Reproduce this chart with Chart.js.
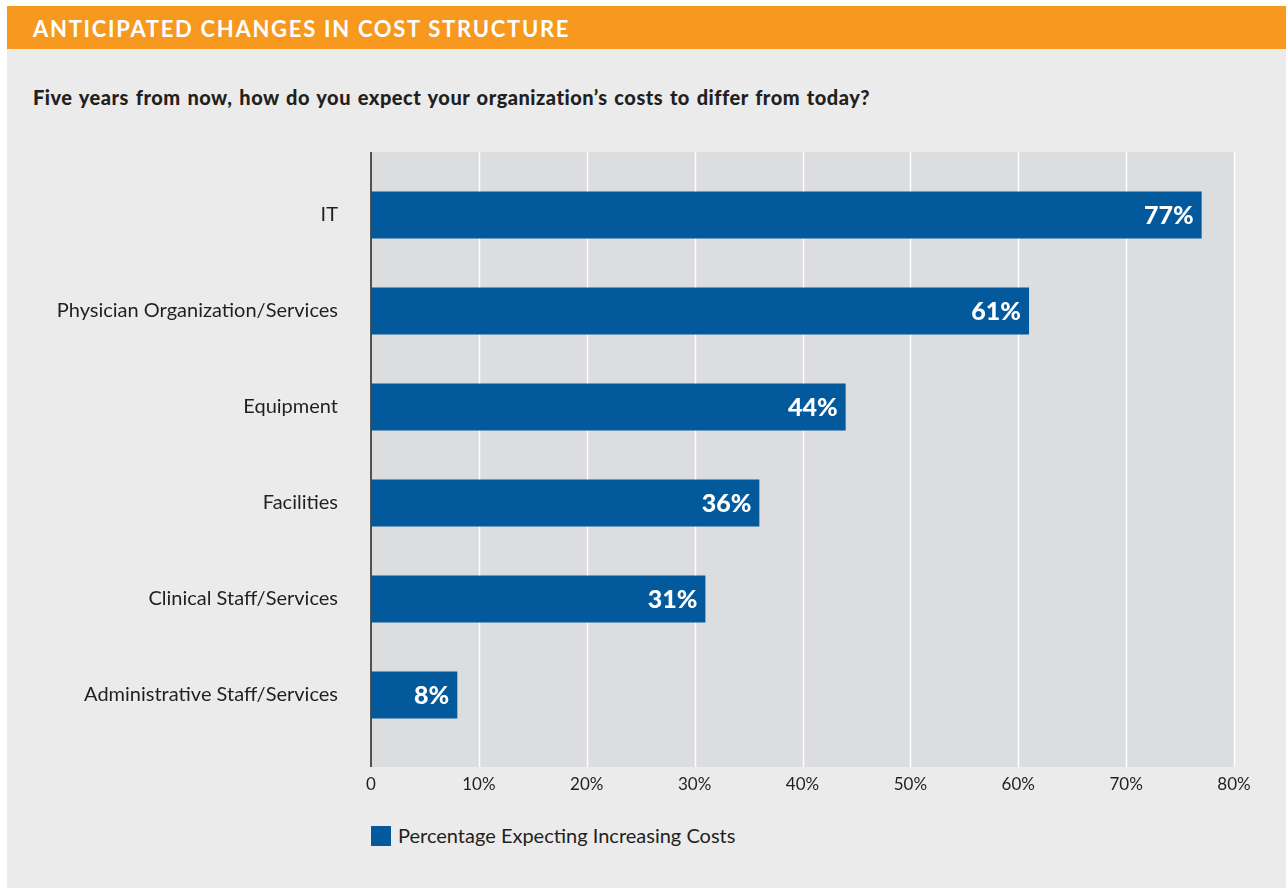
<!DOCTYPE html>
<html>
<head>
<meta charset="utf-8">
<script src="https://cdn.jsdelivr.net/npm/chart.js@4.4.1/dist/chart.umd.min.js"></script>
<style>
  body { margin: 0; background: #fff; font-family: Lato, sans-serif; }
  .header { position: absolute; left: 7px; top: 6px; width: 1279px; height: 43px; background: #f7981f; }
  .header span { position: absolute; left: 26px; top: 9px; color: #fff; font-weight: 700; font-size: 22px; letter-spacing: 1.7px; }
  .panel { position: absolute; left: 7px; top: 49px; width: 1279px; height: 839px; background: #ebebeb; }
  .question { position: absolute; left: 33px; top: 85px; font-weight: 900; font-size: 20px; letter-spacing: 0.5px; word-spacing: 1.5px; color: #231f20; }
  .wrap { position: absolute; left: 7px; top: 130px; width: 1279px; height: 680px; }
  .legend { position: absolute; left: 371px; top: 823px; font-size: 20px; color: #231f20; }
  .legend i { display: inline-block; width: 20px; height: 20px; background: #02599b; vertical-align: -3px; margin-right: 7px; }
</style>
</head>
<body>
<div class="header"><span>ANTICIPATED CHANGES IN COST STRUCTURE</span></div>
<div class="panel"></div>
<div class="question">Five years from now, how do you expect your organization’s costs to differ from today?</div>
<div class="wrap"><canvas id="chart"></canvas></div>
<div class="legend"><i></i>Percentage Expecting Increasing Costs</div>
<script>
const categories = ['IT', 'Physician Organization/Services', 'Equipment', 'Facilities', 'Clinical Staff/Services', 'Administrative Staff/Services'];
const increasing = [77, 61, 44, 36, 31, 8];
const xTicks = [0, 10, 20, 30, 40, 50, 60, 70, 80];

// plot background is taller than the category band, so draw it by hand
const plotBg = {
  id: 'plotBg',
  beforeDraw(chart) {
    const {ctx, chartArea: a, scales: {x}} = chart;
    const top = a.top - 15, bottom = a.bottom + 24;
    ctx.save();
    ctx.fillStyle = '#dcdddf';
    ctx.fillRect(a.left, top, a.right - a.left, bottom - top);
    ctx.strokeStyle = '#ffffff';
    ctx.lineWidth = 1.5;
    xTicks.slice(1).forEach(v => {
      const px = Math.round(x.getPixelForValue(v)) + 0.5;
      ctx.beginPath(); ctx.moveTo(px, top); ctx.lineTo(px, bottom); ctx.stroke();
    });
    ctx.strokeStyle = '#231f20';
    ctx.lineWidth = 1.5;
    ctx.beginPath(); ctx.moveTo(a.left, top); ctx.lineTo(a.left, bottom); ctx.stroke();
    ctx.restore();
  },
  afterDatasetsDraw(chart) {
    const {ctx} = chart;
    const meta = chart.getDatasetMeta(0);
    ctx.save();
    ctx.fillStyle = '#ffffff';
    ctx.font = '900 25px Lato';
    ctx.textAlign = 'right';
    ctx.textBaseline = 'middle';
    meta.data.forEach((bar, i) => {
      ctx.fillText(increasing[i] + '%', bar.x - 8, bar.y + 1);
    });
    ctx.restore();
  }
};

new Chart(document.getElementById('chart'), {
  type: 'bar',
  data: {
    labels: categories,
    datasets: [{
      label: 'Percentage Expecting Increasing Costs',
      data: increasing,
      backgroundColor: '#02599b',
      categoryPercentage: 1,
      barPercentage: 0.49
    }]
  },
  options: {
    indexAxis: 'y',
    responsive: true,
    maintainAspectRatio: false,
    animation: false,
    layout: { padding: { top: 32, right: 52 } },
    plugins: { legend: { display: false }, tooltip: { enabled: false } },
    scales: {
      x: {
        min: 0, max: 80,
        afterBuildTicks: s => { s.ticks = xTicks.map(v => ({value: v})); },
        afterFit: s => { s.height = 67; },
        grid: { display: false },
        border: { display: false },
        ticks: {
          padding: 23,
          color: '#231f20',
          font: { family: 'Lato', size: 17 },
          callback: v => v === 0 ? '0' : v + '%'
        }
      },
      y: {
        afterFit: s => { s.width = 364; },
        grid: { display: false },
        border: { display: false },
        ticks: {
          padding: 25,
          color: '#231f20',
          font: { family: 'Lato', size: 20 }
        }
      }
    }
  },
  plugins: [plotBg]
});
</script>
</body>
</html>
